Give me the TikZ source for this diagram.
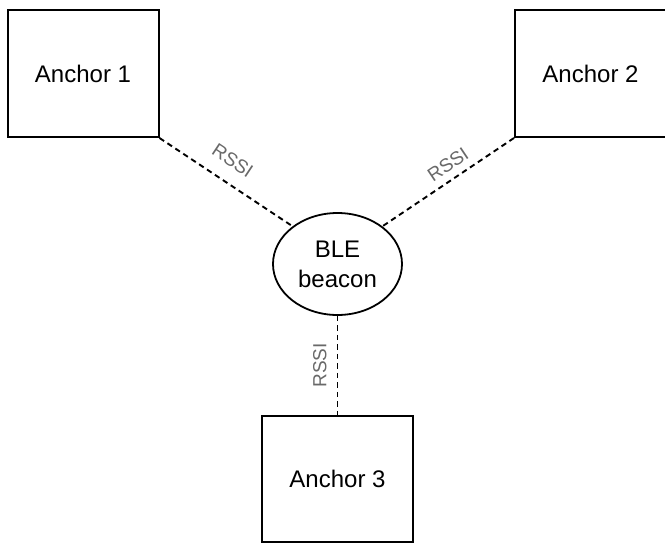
\documentclass[tikz,border=0pt]{standalone}
\usepackage{fontspec}
\setmainfont{Liberation Sans}
\usetikzlibrary{shapes.geometric}
\definecolor{lblgray}{RGB}{105,105,105}
\begin{document}
\begin{tikzpicture}[x=1pt,y=-1pt,
  anchorbox/.style={draw=black, line width=2pt, fill=white, minimum width=151pt, minimum height=127pt, inner sep=0pt, font=\fontsize{24}{29}\selectfont},
  beacon/.style={draw=black, line width=1.8pt, ellipse, fill=white, minimum width=129pt, minimum height=102pt, inner sep=0pt, align=center, font=\fontsize{24}{30}\selectfont},
  link/.style={draw=black, line width=1.9pt, dash pattern=on 5.5pt off 4pt},
  rssi/.style={text=lblgray, font=\fontsize{19}{21}\selectfont, inner sep=1pt}]
\useasboundingbox (0,0) rectangle (665,543);
\node[anchorbox] (a1) at (83,73.5) {Anchor 1};
\node[anchorbox] (a2) at (590.5,73.5) {Anchor 2};
\node[anchorbox, minimum height=126pt] (a3) at (337.5,479) {Anchor 3};
\node[beacon] (b) at (337.5,264) {BLE\\beacon};
\draw[link] (a1.south east) -- (b.140) node[rssi, pos=0.46, sloped, above=13pt] {RSSI};
\draw[link] (a2.south west) -- (b.40) node[rssi, pos=0.44, sloped, above=6pt] {RSSI};
\draw[link] (b.south) -- (a3.north) node[rssi, midway, rotate=90, anchor=south, inner sep=10pt] {RSSI};
\end{tikzpicture}
\end{document}
